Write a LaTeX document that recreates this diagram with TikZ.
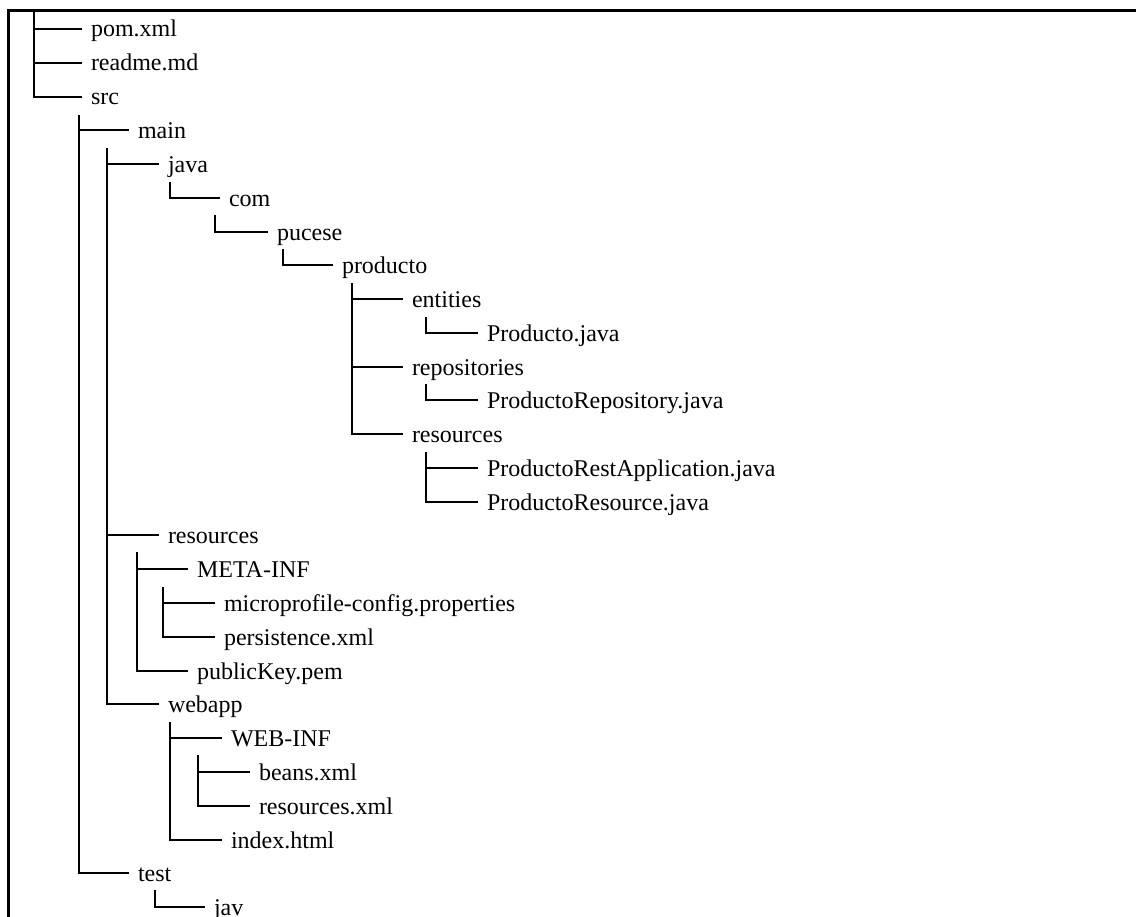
\documentclass[tikz,border=0pt]{standalone}
\usepackage{fontspec}
\setmainfont{Liberation Serif}

\tikzset{every picture/.style={line width=1.5pt}}
\tikzset{
	entry/.style={anchor=west, inner xsep=6pt, inner ysep=0pt, text height=12pt, text depth=0pt, font=\fontsize{18}{20}\selectfont},
	frame/.style={line width=2.25pt}
}

\begin{document}
\begin{tikzpicture}[x=0.75pt,y=0.75pt,yscale=-1,xscale=1]
			\useasboundingbox (0,0) rectangle (1136,917);
			%Shape: Frame
			\draw [frame] (8,917) -- (8,11) -- (1136,11) ;

			% Text Node
			\node [entry] (pom) at (82,29) {pom.xml};
			\node [entry] (readme) at (82,63) {readme.md};
			\node [entry] (src) at (82,97) {src};
			\node [entry] (main) at (129,130) {main};
			\node [entry] (java) at (159,164) {java};
			\node [entry] (com) at (220,198) {com};
			\node [entry] (pucese) at (268,232) {pucese};
			\node [entry] (producto) at (333,265) {producto};
			\node [entry] (entities) at (403,299) {entities};
			\node [entry] (productojava) at (478,333) {Producto.java};
			\node [entry] (repositories) at (403,367) {repositories};
			\node [entry] (repositoryjava) at (478,400) {ProductoRepository.java};
			\node [entry] (resources) at (403,434) {resources};
			\node [entry] (restappjava) at (478,468) {ProductoRestApplication.java};
			\node [entry] (resourcejava) at (478,502) {ProductoResource.java};
			\node [entry] (mainres) at (159,535) {resources};
			\node [entry] (metainf) at (188,569) {META-INF};
			\node [entry] (microprofile) at (215,603) {microprofile-config.properties};
			\node [entry] (persistence) at (215,637) {persistence.xml};
			\node [entry] (publickey) at (188,671) {publicKey.pem};
			\node [entry] (webapp) at (159,704) {webapp};
			\node [entry] (webinf) at (222,738) {WEB-INF};
			\node [entry] (beans) at (250,772) {beans.xml};
			\node [entry] (resxml) at (250,806) {resources.xml};
			\node [entry] (index) at (222,840) {index.html};
			\node [entry] (test) at (129,873) {test};
			\node [entry] (jav) at (205,907) {jav};

			% Branch tops
			\coordinate (root-v) at (34,11);
			\coordinate (src-v) at (79,115);
			\coordinate (main-v) at (107,148);
			\coordinate (java-v) at (170,182);
			\coordinate (com-v) at (215,215);
			\coordinate (pucese-v) at (283,249);
			\coordinate (producto-v) at (352,283);
			\coordinate (entities-v) at (426,317);
			\coordinate (repositories-v) at (426,384);
			\coordinate (resources-v) at (426,452);
			\coordinate (mainres-v) at (137,552);
			\coordinate (metainf-v) at (163,587);
			\coordinate (webapp-v) at (170,722);
			\coordinate (webinf-v) at (198,755);
			\coordinate (test-v) at (155,890);

			%Straight Lines
			\draw (root-v |- pom.west) -- (pom.west) ;
			\draw (root-v |- readme.west) -- (readme.west) ;
			\draw (root-v) |- (src.west) ;
			%Straight Lines
			\draw (src-v |- main.west) -- (main.west) ;
			\draw (src-v) |- (test.west) ;
			%Straight Lines
			\draw (main-v |- java.west) -- (java.west) ;
			\draw (main-v |- mainres.west) -- (mainres.west) ;
			\draw (main-v) |- (webapp.west) ;
			%Straight Lines
			\draw (java-v) |- (com.west) ;
			\draw (com-v) |- (pucese.west) ;
			\draw (pucese-v) |- (producto.west) ;
			%Straight Lines
			\draw (producto-v |- entities.west) -- (entities.west) ;
			\draw (producto-v |- repositories.west) -- (repositories.west) ;
			\draw (producto-v) |- (resources.west) ;
			\draw (entities-v) |- (productojava.west) ;
			\draw (repositories-v) |- (repositoryjava.west) ;
			\draw (resources-v |- restappjava.west) -- (restappjava.west) ;
			\draw (resources-v) |- (resourcejava.west) ;
			%Straight Lines
			\draw (mainres-v |- metainf.west) -- (metainf.west) ;
			\draw (mainres-v) |- (publickey.west) ;
			\draw (metainf-v |- microprofile.west) -- (microprofile.west) ;
			\draw (metainf-v) |- (persistence.west) ;
			%Straight Lines
			\draw (webapp-v |- webinf.west) -- (webinf.west) ;
			\draw (webapp-v) |- (index.west) ;
			\draw (webinf-v |- beans.west) -- (beans.west) ;
			\draw (webinf-v) |- (resxml.west) ;
			%Straight Lines
			\draw (test-v) |- (jav.west) ;

		\end{tikzpicture}
\end{document}
